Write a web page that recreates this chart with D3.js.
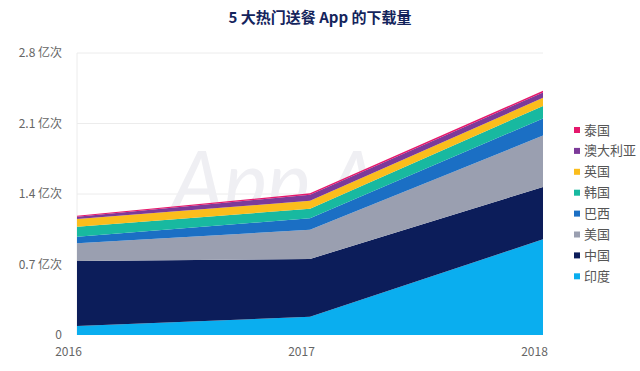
<!DOCTYPE html>
<html>
<head>
<meta charset="utf-8">
<title>5 大热门送餐 App 的下载量</title>
<style>
body {margin: 0; background: #fff;}
text {font-family: "Noto Sans CJK SC", "Noto Sans", sans-serif;}
.title {font-size: 15px; font-weight: bold; fill: #14245c;}
.tick text {font-size: 12px; fill: #666;}
.legend text {font-size: 13px; fill: #555;}
</style>
</head>
<body>
<div id="chart"></div>
<script src="https://cdn.jsdelivr.net/npm/d3@7"></script>
<script>
var years = [2016, 2017, 2018];
var countries = ['印度', '中国', '美国', '巴西', '韩国', '英国', '澳大利亚', '泰国'];
// downloads, 100 millions (亿次)
var india     = [0.09, 0.18, 0.95];
var china     = [0.645, 0.575, 0.52];
var usa       = [0.175, 0.29, 0.51];
var brazil    = [0.065, 0.115, 0.17];
var korea     = [0.10, 0.093, 0.125];
var uk        = [0.077, 0.08, 0.08];
var australia = [0.023, 0.06, 0.053];
var thailand  = [0.008, 0.015, 0.016];
var yTicks = [0, 0.7, 1.4, 2.1, 2.8];
var colors = ['#0aaeef', '#0c1d5a', '#9a9fb0', '#1b6fc4', '#18b9a0', '#fbbd1c', '#7c3a99', '#e5186c'];

(function(d3) {
	var width = 640, height = 371;
	var series = [india, china, usa, brazil, korea, uk, australia, thailand];

	var table = years.map(function(y, i) {
		var row = {year: y};
		countries.forEach(function(c, j) { row[c] = series[j][i]; });
		return row;
	});

	var x = d3.scaleLinear().domain([2016, 2018]).range([77, 543]);
	var y = d3.scaleLinear().domain([0, 2.8]).range([335, 53]);
	var color = d3.scaleOrdinal().domain(countries).range(colors);

	var svg = d3.select('#chart').append('svg')
		.attr('width', width)
		.attr('height', height);

	svg.append('text')
		.attr('class', 'title')
		.attr('x', 320)
		.attr('y', 23)
		.attr('text-anchor', 'middle')
		.text('5 大热门送餐 App 的下载量');

	// grid
	svg.append('g')
		.selectAll('line')
		.data(yTicks.slice(1))
		.enter().append('line')
		.attr('x1', x(2016)).attr('x2', x(2018))
		.attr('y1', function(d) { return y(d); })
		.attr('y2', function(d) { return y(d); })
		.attr('stroke', '#ececec');
	svg.append('line')
		.attr('x1', x(2016)).attr('x2', x(2016))
		.attr('y1', y(2.8)).attr('y2', y(0))
		.attr('stroke', '#ececec');

	// watermark
	svg.append('text')
		.attr('x', 348).attr('y', 210)
		.attr('text-anchor', 'middle')
		.style('font-family', 'Lato, sans-serif')
		.style('font-style', 'italic')
		.style('font-size', '82px')
		.style('fill', '#efeff3')
		.text('App Annie');

	var stack = d3.stack().keys(countries);
	var area = d3.area()
		.x(function(d) { return x(d.data.year); })
		.y0(function(d) { return y(d[0]); })
		.y1(function(d) { return y(d[1]); });

	svg.append('g')
		.selectAll('path')
		.data(stack(table))
		.enter().append('path')
		.attr('d', area)
		.attr('fill', function(d) { return color(d.key); });

	// y axis
	var yAxis = d3.axisLeft(y)
		.tickValues(yTicks)
		.tickSize(0)
		.tickPadding(15)
		.tickFormat(function(d) { return d === 0 ? '0' : d + ' 亿次'; });
	svg.append('g')
		.attr('transform', 'translate(' + x(2016) + ',0)')
		.call(yAxis)
		.call(function(g) { g.select('.domain').remove(); });

	// x axis
	var xAxis = d3.axisBottom(x)
		.tickValues(years)
		.tickSize(0)
		.tickPadding(12)
		.tickFormat(d3.format('d'));
	svg.append('g')
		.attr('transform', 'translate(-9,' + y(0) + ')')
		.call(xAxis)
		.call(function(g) { g.select('.domain').remove(); });

	// legend, top to bottom reversed
	var legend = svg.selectAll('.legend')
		.data(countries.slice().reverse())
		.enter().append('g')
		.attr('class', 'legend')
		.attr('transform', function(d, i) {
			return 'translate(574,' + (130 + i * 20.9) + ')';
		});
	legend.append('rect')
		.attr('x', 0).attr('y', -3)
		.attr('width', 6).attr('height', 6)
		.attr('fill', color);
	legend.append('text')
		.attr('x', 10).attr('y', 0)
		.attr('dy', '0.35em')
		.text(function(d) { return d; });
})(window.d3);
</script>
</body>
</html>
